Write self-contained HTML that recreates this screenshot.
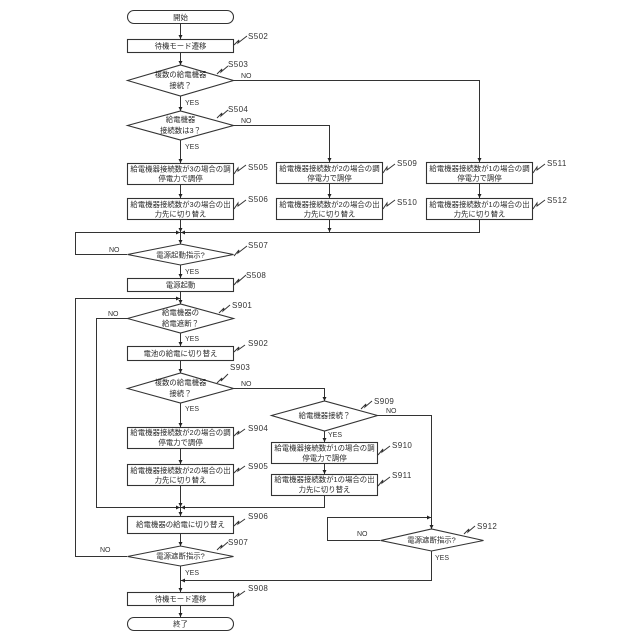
<!DOCTYPE html>
<html><head><meta charset="utf-8"><style>
html,body{margin:0;padding:0;background:#fff}
svg{display:block}
text{font-family:"Liberation Sans","Noto Sans CJK JP",sans-serif;font-size:7.4px;fill:#2a2a2a;text-anchor:middle}
.l{font-size:7px;text-anchor:start;fill:#333}
.n{font-size:8px;letter-spacing:.4px;text-anchor:start;fill:#333}
.e{fill:none;stroke:#333;stroke-width:1}
.b{fill:#fff;stroke:#333;stroke-width:1.1}
.s{fill:none;stroke:#333;stroke-width:1}
.a{fill:#222}
</style></head><body>
<svg width="640" height="640" viewBox="0 0 640 640" xmlns="http://www.w3.org/2000/svg">
<!-- connectors -->
<g class="e">
<path d="M180.500 23V39M180.500 52V65M180.500 96V111M180.500 140V163M180.500 184V198M180.500 220V244M180.500 265V278M180.500 291V304M180.500 333V346M180.500 360V373M180.500 403V427M180.500 448V464M180.500 486V516M180.500 533V546M180.500 566V592M180.500 605V617"/>
<path d="M234 80.500H479.500V162M479.500 184V198M234 125.500H329.500V162M329.500 183V198M329.500 220V232M479.500 220V232.500H75.500V254.500H127"/>
<path d="M127 318.500H96.500V507.500H324.500V496M324.500 464V474M324.500 431V442"/>
<path d="M127 556.500H75.500V298.500H180"/>
<path d="M234 388.500H324.500V401"/>
<path d="M377 415.500H431.500V529"/>
<path d="M380 540.500H327.500V517.500H431"/>
<path d="M431.500 551V580.500H181"/>
</g>
<!-- arrowheads -->
<g class="a">
<path d="M178.500 35h4l-2 4zM178.500 61h4l-2 4zM178.500 107h4l-2 4zM178.500 159h4l-2 4zM178.500 194h4l-2 4zM178.500 240h4l-2 4zM178.500 228h4l-2 4zM178.500 274h4l-2 4zM178.500 300h4l-2 4zM178.500 342h4l-2 4zM178.500 369h4l-2 4zM178.500 423h4l-2 4zM178.500 460h4l-2 4zM178.500 512h4l-2 4zM178.500 503h4l-2 4zM178.500 542h4l-2 4zM178.500 588h4l-2 4zM178.500 613h4l-2 4z"/>
<path d="M327.500 158h4l-2 4zM327.500 194h4l-2 4zM327.500 228h4l-2 4zM477.500 158h4l-2 4zM477.500 194h4l-2 4zM322.500 397h4l-2 4zM322.500 438h4l-2 4zM322.500 470h4l-2 4zM429.500 525h4l-2 4z"/>
<path d="M176 296.500v4l4-2zM185 230.500v4l-4-2zM176 230.500v4l4-2zM185 505.500v4l-4-2zM176 505.500v4l4-2zM427 515.500v4l4-2zM185 578.500v4l-4-2z"/>
</g>
<!-- shapes -->
<rect class="b" x="127.500" y="10.500" width="106" height="13" rx="6.500"/>
<rect class="b" x="127.500" y="39.500" width="106" height="13"/>
<path class="b" d="M127.500 80.500L180.500 65 233.500 80.500 180.500 96z"/>
<path class="b" d="M127.500 125.500L180.500 111 233.500 125.500 180.500 140z"/>
<rect class="b" x="127.500" y="163.500" width="106" height="21"/>
<rect class="b" x="127.500" y="198.500" width="106" height="21"/>
<rect class="b" x="276.500" y="162.500" width="106" height="21"/>
<rect class="b" x="276.500" y="198.500" width="106" height="21"/>
<rect class="b" x="426.500" y="162.500" width="106" height="21"/>
<rect class="b" x="426.500" y="198.500" width="106" height="21"/>
<path class="b" d="M127.500 254.500L180.500 244 233.500 254.500 180.500 265z"/>
<rect class="b" x="127.500" y="278.500" width="106" height="13"/>
<path class="b" d="M127.500 318.500L180.500 304 233.500 318.500 180.500 333z"/>
<rect class="b" x="127.500" y="346.500" width="106" height="14"/>
<path class="b" d="M127.500 388.500L180.500 373 233.500 388.500 180.500 403z"/>
<rect class="b" x="127.500" y="427.500" width="106" height="21"/>
<rect class="b" x="127.500" y="464.500" width="106" height="21"/>
<rect class="b" x="127.500" y="516.500" width="106" height="17"/>
<path class="b" d="M127.500 556.500L180.500 546 233.500 556.500 180.500 566z"/>
<rect class="b" x="127.500" y="592.500" width="106" height="13"/>
<rect class="b" x="127.500" y="617.500" width="106" height="13" rx="6.500"/>
<path class="b" d="M271.500 415.500L324.500 401 377.500 415.500 324.500 431z"/>
<rect class="b" x="271.500" y="442.500" width="106" height="21"/>
<rect class="b" x="271.500" y="474.500" width="106" height="21"/>
<path class="b" d="M380.500 540.500L431.500 529 483.500 540.500 431.500 551z"/>
<!-- squiggles -->
<g class="s">
<path d="M234 45l5-5-1 3 9-7M217 74l5-5-1 3 7-6M217 118l5-5-1 3 7-6"/>
<path d="M234 174l4-6 0 3 8-6M234 209l4-6 0 3 8-6M383 173l4-6 0 3 8-6M383 209l4-6 0 3 8-6M533 173l4-6 0 3 8-6M533 209l4-6 0 3 8-6"/>
<path d="M234 256l5-6-1 3 9-7M234 285l5-6-1 3 8-7M219 313l5-5-1 3 7-6M234 352l5-5-1 3 7-5"/>
<path d="M217 383l5-5-1 3 7-7M234 436l5-5-1 3 7-5M234 473l5-5-1 3 7-5M234 526l5-5-1 3 7-5M217 550l5-5-1 3 7-6M234 598l5-5-1 3 7-5"/>
<path d="M361 409l5-5-1 3 7-6M378 455l5-6-1 3 8-6M378 486l5-6-1 3 8-6M464 534l5-5-1 3 7-6"/>
</g>
<!-- node text -->
<text x="180.500" y="20">開始</text>
<text x="180.500" y="48.500">待機モード遷移</text>
<text x="180.500" y="77">複数の給電機器</text>
<text x="180.500" y="88">接続？</text>
<text x="180.500" y="122">給電機器</text>
<text x="180.500" y="133">接続数は3？</text>
<text x="180.500" y="171.500">給電機器接続数が3の場合の調</text>
<text x="180.500" y="181">停電力で調停</text>
<text x="180.500" y="207">給電機器接続数が3の場合の出</text>
<text x="180.500" y="216.500">力先に切り替え</text>
<text x="329.500" y="171">給電機器接続数が2の場合の調</text>
<text x="329.500" y="180.500">停電力で調停</text>
<text x="329.500" y="207">給電機器接続数が2の場合の出</text>
<text x="329.500" y="216.500">力先に切り替え</text>
<text x="479.500" y="171">給電機器接続数が1の場合の調</text>
<text x="479.500" y="180.500">停電力で調停</text>
<text x="479.500" y="207">給電機器接続数が1の場合の出</text>
<text x="479.500" y="216.500">力先に切り替え</text>
<text x="180.500" y="257.500">電源起動指示?</text>
<text x="180.500" y="287.500">電源起動</text>
<text x="180.500" y="315">給電機器の</text>
<text x="180.500" y="326">給電遮断？</text>
<text x="180.500" y="356">電池の給電に切り替え</text>
<text x="180.500" y="385">複数の給電機器</text>
<text x="180.500" y="396">接続？</text>
<text x="180.500" y="435">給電機器接続数が2の場合の調</text>
<text x="180.500" y="445">停電力で調停</text>
<text x="180.500" y="473">給電機器接続数が2の場合の出</text>
<text x="180.500" y="482.500">力先に切り替え</text>
<text x="180.500" y="527">給電機器の給電に切り替え</text>
<text x="180.500" y="558.500">電源遮断指示?</text>
<text x="180.500" y="601.500">待機モード遷移</text>
<text x="180.500" y="626.500">終了</text>
<text x="324.500" y="418">給電機器接続？</text>
<text x="324.500" y="450.500">給電機器接続数が1の場合の調</text>
<text x="324.500" y="460.500">停電力で調停</text>
<text x="324.500" y="482">給電機器接続数が1の場合の出</text>
<text x="324.500" y="492">力先に切り替え</text>
<text x="431.500" y="542.500">電源遮断指示?</text>
<!-- step labels -->
<text class="n" x="248" y="39">S502</text>
<text class="n" x="228" y="67">S503</text>
<text class="n" x="228" y="112">S504</text>
<text class="n" x="248" y="170">S505</text>
<text class="n" x="248" y="202">S506</text>
<text class="n" x="397" y="166">S509</text>
<text class="n" x="397" y="205">S510</text>
<text class="n" x="547" y="166">S511</text>
<text class="n" x="547" y="203">S512</text>
<text class="n" x="248" y="248">S507</text>
<text class="n" x="246" y="278">S508</text>
<text class="n" x="232" y="308">S901</text>
<text class="n" x="248" y="346">S902</text>
<text class="n" x="230" y="370">S903</text>
<text class="n" x="248" y="431">S904</text>
<text class="n" x="248" y="469">S905</text>
<text class="n" x="248" y="519">S906</text>
<text class="n" x="228" y="545">S907</text>
<text class="n" x="248" y="591">S908</text>
<text class="n" x="374" y="404">S909</text>
<text class="n" x="392" y="448">S910</text>
<text class="n" x="392" y="478">S911</text>
<text class="n" x="477" y="529">S912</text>
<!-- branch labels -->
<text class="l" x="241" y="78">NO</text>
<text class="l" x="241" y="123">NO</text>
<text class="l" x="185" y="105">YES</text>
<text class="l" x="185" y="149">YES</text>
<text class="l" x="109" y="252">NO</text>
<text class="l" x="185" y="274">YES</text>
<text class="l" x="108" y="316">NO</text>
<text class="l" x="185" y="341">YES</text>
<text class="l" x="241" y="386">NO</text>
<text class="l" x="185" y="411">YES</text>
<text class="l" x="100" y="552">NO</text>
<text class="l" x="185" y="575">YES</text>
<text class="l" x="328" y="437">YES</text>
<text class="l" x="386" y="413">NO</text>
<text class="l" x="357" y="536">NO</text>
<text class="l" x="435" y="560">YES</text>
</svg>
</body></html>
